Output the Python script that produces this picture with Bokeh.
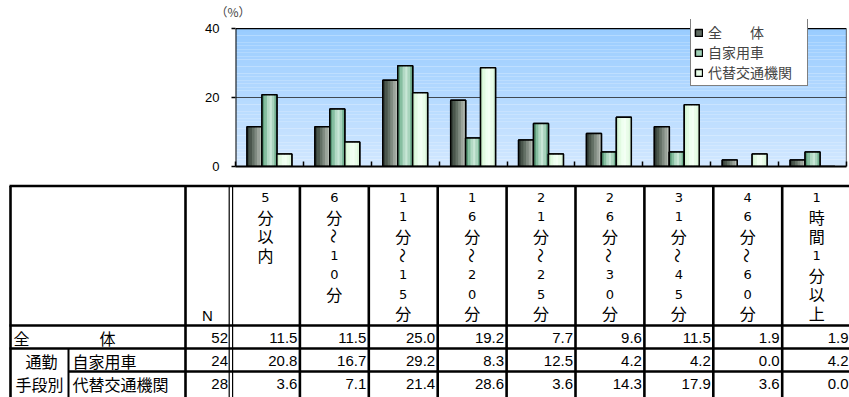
import numpy as np
from bokeh.plotting import figure
from bokeh.models import (Range1d, FixedTicker, Legend, LegendItem)
from bokeh.layouts import column
from bokeh.core.properties import value
from bokeh.embed import file_html
from bokeh.resources import INLINE

# ---------------- data ----------------
categories = ["5分以内", "6分～10分", "11分～15分", "16分～20分", "21分～25分",
              "26分～30分", "31分～45分", "46分～60分", "1時間1分以上"]
series_names = ["全　　体", "自家用車", "代替交通機関"]
row_labels = ["全体", "自家用車", "代替交通機関"]
group_label = ["通勤", "手段別"]
n_values = [52, 24, 28]
total_vals = [11.5, 11.5, 25.0, 19.2, 7.7, 9.6, 11.5, 1.9, 1.9]
car_vals = [20.8, 16.7, 29.2, 8.3, 12.5, 4.2, 4.2, 0.0, 4.2]
alt_vals = [3.6, 7.1, 21.4, 28.6, 3.6, 14.3, 17.9, 3.6, 0.0]
y_ticks = [0, 20, 40]
y_max = 40
unit_label = "（%）"
series_vals = [total_vals, car_vals, alt_vals]

# ---------------- styles ----------------
strip_colors = [
    ["#37423a", "#4a564c", "#637065", "#7f8a80", "#9aa39a", "#b3bab2"],
    ["#5a9a78", "#86bea0", "#b2d9c4", "#c8e6d6", "#a9d4bd", "#72b090"],
    ["#d2f3d2", "#e2fae2", "#eefff0", "#f3fff4", "#e9fce9", "#dcf6dc"],
]
legend_colors = ["#5f6b61", "#9fd0b6", "#e8fde8"]
JP = "Noto Sans CJK JP"
AR = "Liberation Sans"

ncat = len(categories)
bar_w = 0.22
offsets = [-bar_w, 0.0, bar_w]
px_per_unit = 137 / 40.0
top_extra = 9 / px_per_unit   # room above the plot area for the legend box

# ---------------- chart ----------------
p = figure(width=849, height=175, x_range=Range1d(0, ncat),
           y_range=Range1d(0, y_max + top_extra),
           output_backend="svg", toolbar_location=None,
           min_border_left=235, min_border_right=3, min_border_top=19,
           min_border_bottom=9)
p.frame_align = False
p.background_fill_color = "white"
p.border_fill_color = "white"
p.outline_line_color = None

# gradient background of plot area (style only)
nb = 40
edges = np.linspace(0, y_max, nb + 1)
c_bot = np.array([0xd2, 0xe8, 0xff])
c_top = np.array([0x99, 0xcc, 0xff])
bg_cols = []
for i in range(nb):
    f = (i + 0.5) / nb
    c = (c_bot * (1 - f) + c_top * f).astype(int)
    bg_cols.append("#%02x%02x%02x" % tuple(c))
bg = p.quad(left=0, right=ncat, bottom=edges[:-1], top=edges[1:],
            fill_color=bg_cols, line_color=None)
bg.level = "image"

# plot-area border (top & right, left)
p.segment(x0=[0, ncat], y0=[y_max, 0], x1=[ncat, ncat], y1=[y_max, y_max],
          line_color="black", line_width=1.2)
p.segment(x0=[0], y0=[0], x1=[0], y1=[y_max], line_color="black", line_width=2)

# bars
x_idx = np.arange(ncat) + 0.5
ns = len(strip_colors[0])
leg_items = []
for s, vals in enumerate(series_vals):
    xc = x_idx + offsets[s]
    base = p.vbar(x=xc, top=vals, bottom=0, width=bar_w,
                  fill_color=legend_colors[s], line_color="black", line_width=1.5)
    leg_items.append(LegendItem(label=series_names[s], renderers=[base]))
    sw = bar_w / ns
    for k in range(ns):
        xs = xc - bar_w / 2 + sw * (k + 0.5)
        p.vbar(x=xs, top=vals, bottom=0, width=sw * 1.03,
               fill_color=strip_colors[s][k], line_color=None)
    p.vbar(x=xc, top=vals, bottom=0, width=bar_w, fill_color=None,
           line_color="black", line_width=1.5)

legend = Legend(items=leg_items, location=(455, 80))
legend.label_text_font = JP
legend.label_text_font_size = "14px"
legend.glyph_width = 9
legend.glyph_height = 9
legend.label_standoff = 5
legend.label_width = 96
legend.spacing = 0
legend.padding = 3
legend.margin = 0
legend.label_height = 20
legend.border_line_color = "black"
legend.border_line_width = 1
legend.background_fill_color = "white"
legend.background_fill_alpha = 1
p.add_layout(legend, "center")

# axes
p.xgrid.visible = False
p.ygrid.ticker = FixedTicker(ticks=[20])
p.ygrid.grid_line_color = "#404850"
p.ygrid.grid_line_width = 1
p.xaxis.ticker = FixedTicker(ticks=list(range(ncat + 1)))
p.xaxis.major_label_overrides = {i: "" for i in range(ncat + 1)}
p.xaxis.major_tick_in = 5
p.xaxis.major_tick_out = 0
p.xaxis.minor_tick_line_color = None
p.xaxis.major_label_text_font_size = "1px"
p.xaxis.major_label_standoff = 0
p.xaxis.axis_line_width = 2
p.xaxis.axis_line_color = "black"
p.xaxis.major_tick_line_color = "black"
p.xaxis.major_tick_line_width = 1.5

p.yaxis.ticker = FixedTicker(ticks=y_ticks)
p.yaxis.major_tick_out = 4
p.yaxis.major_tick_in = 0
p.yaxis.minor_tick_line_color = None
p.yaxis.axis_line_color = None
p.yaxis.major_tick_line_color = "black"
p.yaxis.major_tick_line_width = 1.5
p.yaxis.major_label_text_font = AR
p.yaxis.major_label_text_font_size = "13px"
p.yaxis.major_label_text_color = "black"
p.yaxis.major_label_standoff = 12

p.title.text = unit_label
p.title.align = "left"
p.title.offset = -20
p.title.standoff = 0
p.title.text_font = JP
p.title.text_font_size = "12px"
p.title.text_line_height = 1.0
p.title.text_font_style = "normal"

# ---------------- table ----------------
t = figure(width=849, height=222, x_range=Range1d(0, 849), y_range=Range1d(397, 175),
           output_backend="svg", toolbar_location=None, x_axis_type=None,
           y_axis_type=None, min_border=0, min_border_left=0, min_border_right=0,
           min_border_top=0, min_border_bottom=0)
t.frame_align = False
t.outline_line_color = None
t.grid.visible = False

xl, xg, xn, xd = 10, 68, 185, 230.5
cw = 68.9
col_edges = [xd + i * cw for i in range(ncat + 1)]
y_top, y_hb, rh = 185.5, 325, 23
row_y = [y_hb + i * rh for i in range(4)]
thick = 2.6

# horizontal lines
t.segment(x0=[xl - 1, xl - 1, xl - 1, xg], y0=[y_top, y_hb, row_y[1], row_y[2]],
          x1=[860] * 4, y1=[y_top, y_hb, row_y[1], row_y[2]],
          line_color="black", line_width=thick)
# vertical lines
vx = [xl, xn] + col_edges[1:]
t.segment(x0=vx, y0=[y_top] * len(vx), x1=vx, y1=[400] * len(vx),
          line_color="black", line_width=thick)
t.segment(x0=[xg], y0=[row_y[1]], x1=[xg], y1=[400], line_color="black", line_width=2)
t.segment(x0=[xd - 1.8, xd + 1.6], y0=[y_top] * 2, x1=[xd - 1.8, xd + 1.6], y1=[400] * 2,
          line_color="black", line_width=1.2)

# header characters (vertical writing)
hx_d, hy_d, ht_d = [], [], []
hx_k, hy_k, ht_k = [], [], []
hx_t, hy_t = [], []
for i, cat in enumerate(categories):
    cx = (col_edges[i] + col_edges[i + 1]) / 2
    for k, ch in enumerate(cat):
        yy = 197 + k * 19.3
        if ch.isdigit():
            hx_d.append(cx); hy_d.append(yy); ht_d.append(ch)
        elif ch == "～":
            hx_t.append(cx); hy_t.append(yy)
        else:
            hx_k.append(cx); hy_k.append(yy); ht_k.append(ch)
t.text(x=hx_d, y=hy_d, text=ht_d, text_font=value("DejaVu Sans"),
       text_font_size="13px", text_align="center", text_baseline="middle",
       text_color="black")
t.text(x=hx_k, y=hy_k, text=ht_k, text_font=value(JP), text_font_size="16px",
       text_align="center", text_baseline="middle", text_color="black")
t.text(x=hx_t, y=hy_t, text=["～"] * len(hx_t), text_font=value(JP),
       text_font_size="15px", text_align="center", text_baseline="middle",
       angle=-np.pi / 2, text_color="black")
t.text(x=[207], y=[315], text=["N"], text_font=value(AR), text_font_size="15px",
       text_align="center", text_baseline="middle", text_color="black")

# row labels
rm = [(row_y[i] + row_y[i + 1]) / 2 + 0.5 for i in range(3)]
t.text(x=[13], y=[rm[0]], text=[row_labels[0][0]], text_font=value(JP),
       text_font_size="16px", text_align="left", text_baseline="middle")
t.text(x=[107], y=[rm[0]], text=[row_labels[0][-1]], text_font=value(JP),
       text_font_size="16px", text_align="center", text_baseline="middle")
t.text(x=[72, 72], y=rm[1:], text=row_labels[1:], text_font=value(JP),
       text_font_size="16px", text_align="left", text_baseline="middle")
t.text(x=[41, 39], y=rm[1:], text=group_label, text_font=value(JP),
       text_font_size="16px", text_align="center", text_baseline="middle")

# N column and values
t.text(x=[xd - 3] * 3, y=rm, text=[str(v) for v in n_values], text_font=value(AR),
       text_font_size="15px", text_align="right", text_baseline="middle")
vx_, vy_, vt_ = [], [], []
for r, vals in enumerate(series_vals):
    for i, v in enumerate(vals):
        vx_.append(col_edges[i + 1] - 2.5)
        vy_.append(rm[r])
        vt_.append("%.1f" % v)
t.text(x=vx_, y=vy_, text=vt_, text_font=value(AR), text_font_size="15px",
       text_align="right", text_baseline="middle")

layout = column(p, t, spacing=0)
open("out.html", "w").write(file_html(layout, INLINE))
